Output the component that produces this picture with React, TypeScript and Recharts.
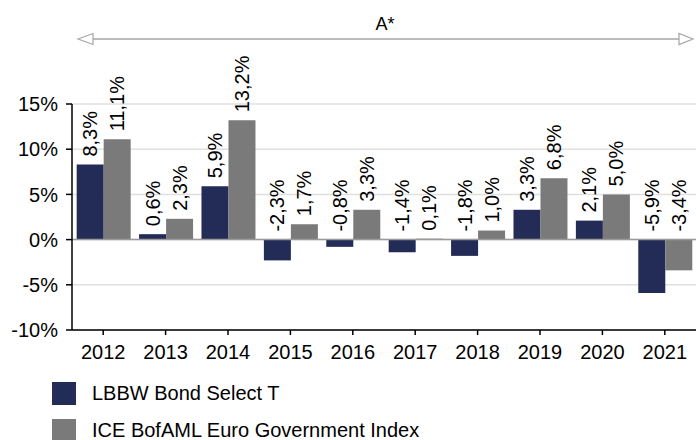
import { BarChart, Bar, XAxis, YAxis, CartesianGrid, ReferenceLine, LabelList } from "recharts";

// --- data ---
const years = ["2012", "2013", "2014", "2015", "2016", "2017", "2018", "2019", "2020", "2021"];
const fundReturns = [8.3, 0.6, 5.9, -2.3, -0.8, -1.4, -1.8, 3.3, 2.1, -5.9];
const indexReturns = [11.1, 2.3, 13.2, 1.7, 3.3, 0.1, 1.0, 6.8, 5.0, -3.4];
const seriesNames = ["LBBW Bond Select T", "ICE BofAML Euro Government Index"];
const yTicks = [-10, -5, 0, 5, 10, 15];

const NAVY = "#232b57";
const GREY = "#7a7a7a";
const FONT = "'Liberation Sans', Arial, sans-serif";

const data = years.map((year, i) => ({
  year,
  fund: fundReturns[i],
  index: indexReturns[i],
}));

const fmt = (v: number) => `${v.toFixed(1).replace(".", ",")}%`;

// rotated label sitting above the bar (or above the zero line for negatives)
const VerticalLabel = (props: any) => {
  const { x, y, width, height, value } = props;
  const top = Math.min(y, y + height);
  const cx = x + width / 2;
  const ty = top - 8;
  return (
    <text
      x={cx}
      y={ty}
      transform={`rotate(-90 ${cx} ${ty})`}
      textAnchor="start"
      dominantBaseline="central"
      fontSize={20}
      fontFamily={FONT}
      fill="#000"
    >
      {fmt(value)}
    </text>
  );
};

export default function App() {
  return (
    <div style={{ position: "absolute", left: 0, top: 0, width: 696, height: 440, background: "#fff", fontFamily: FONT, overflow: "hidden" }}>
      {/* period arrow */}
      <svg width={696} height={60} style={{ position: "absolute", left: 0, top: 0 }}>
        <line x1={92} y1={39} x2={680} y2={39} stroke="#a6a6a6" strokeWidth={1.5} />
        <polygon points="78,39 93,33.5 93,44.5" fill="#fff" stroke="#a6a6a6" strokeWidth={1.2} />
        <polygon points="693,39 679,33.5 679,44.5" fill="#fff" stroke="#a6a6a6" strokeWidth={1.2} />
        <text x={385} y={30} textAnchor="middle" fontSize={18} fontFamily={FONT} fill="#000">
          A*
        </text>
      </svg>

      <BarChart
        width={696}
        height={440}
        data={data}
        margin={{ top: 104, right: 0, left: 8, bottom: 80 }}
        barCategoryGap="7.5%"
        barGap={0}
      >
        <CartesianGrid vertical={false} stroke="#e0e0e0" strokeWidth={1.5} />
        <ReferenceLine y={0} stroke="#9a9a9a" strokeWidth={1.5} />
        <XAxis
          dataKey="year"
          height={30}
          tickSize={5}
          tickMargin={10}
          axisLine={{ stroke: "#000", strokeWidth: 1.5 }}
          tickLine={{ stroke: "#000", strokeWidth: 1.5 }}
          tick={{ fill: "#000", fontSize: 20, fontFamily: FONT }}
        />
        <YAxis
          width={64}
          domain={[-10, 15]}
          ticks={yTicks}
          interval={0}
          tickSize={6}
          tickMargin={8}
          tickFormatter={(v) => `${v}%`}
          axisLine={{ stroke: "#000", strokeWidth: 1.5 }}
          tickLine={{ stroke: "#000", strokeWidth: 1.5 }}
          tick={{ fill: "#000", fontSize: 20, fontFamily: FONT }}
        />
        <Bar dataKey="fund" name={seriesNames[0]} fill={NAVY} isAnimationActive={false}>
          <LabelList dataKey="fund" content={<VerticalLabel />} />
        </Bar>
        <Bar dataKey="index" name={seriesNames[1]} fill={GREY} isAnimationActive={false}>
          <LabelList dataKey="index" content={<VerticalLabel />} />
        </Bar>
      </BarChart>

      {/* legend */}
      {seriesNames.map((name, i) => (
        <div
          key={name}
          style={{
            position: "absolute",
            left: 52,
            top: 381 + i * 37,
            height: 24,
            display: "flex",
            alignItems: "center",
          }}
        >
          <span style={{ width: 24, height: 23, background: i === 0 ? NAVY : GREY, marginRight: 16 }} />
          <span style={{ fontSize: 20, lineHeight: "20px", color: "#000", whiteSpace: "nowrap" }}>{name}</span>
        </div>
      ))}
    </div>
  );
}
